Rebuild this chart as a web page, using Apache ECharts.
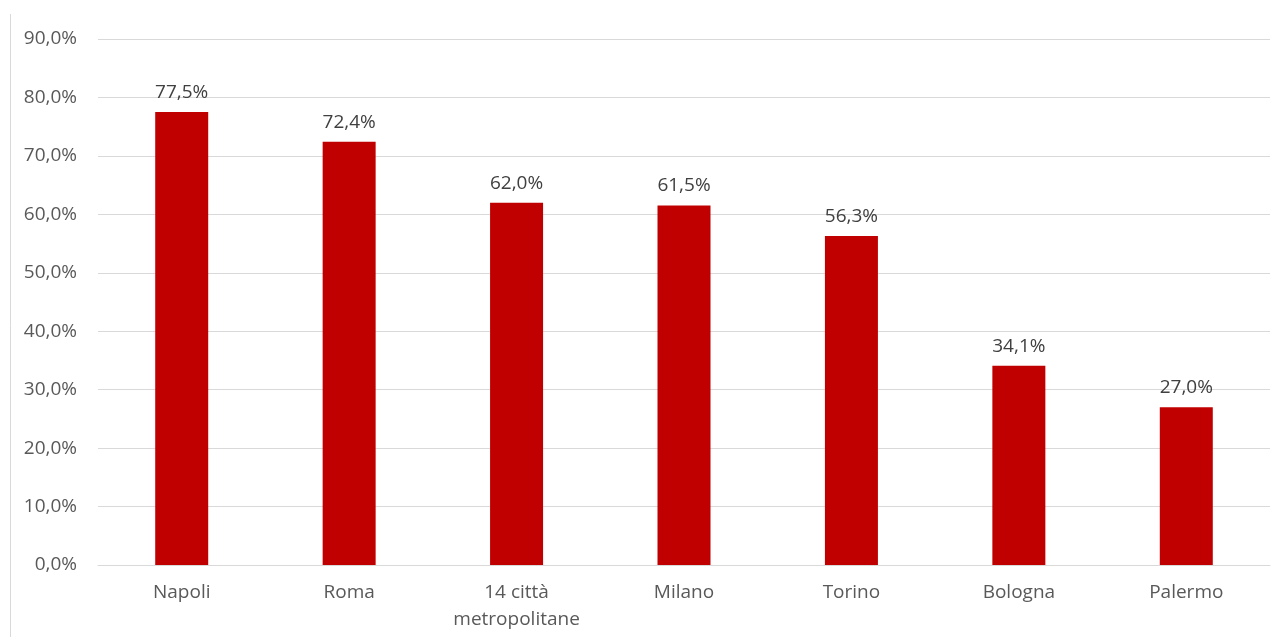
<!DOCTYPE html>
<html><head><meta charset="utf-8">
<script src="https://cdn.jsdelivr.net/npm/echarts@6/dist/echarts.min.js"></script>
<style>html,body{margin:0;padding:0;background:#fff}#c{width:1279px;height:637px}</style>
</head><body><div id="c"></div>
<script>
const categories = ['Napoli','Roma','14 città\nmetropolitane','Milano','Torino','Bologna','Palermo'];
const values = [77.5, 72.4, 62.0, 61.5, 56.3, 34.1, 27.0];
const yTicks = {min: 0, max: 90, interval: 10};
const fmt = v => v.toFixed(1).replace('.', ',') + '%';
const chart = echarts.init(document.getElementById('c'));
chart.setOption({
  animation: false,
  textStyle: {fontFamily: 'Open Sans'},
  grid: {left: 98, right: 9, top: 39, bottom: 72},
  graphic: [{type: 'line', shape: {x1: 10.5, y1: 14, x2: 10.5, y2: 637}, style: {stroke: '#d9d9d9', lineWidth: 1}}],
  xAxis: {type: 'category', data: categories,
    axisLine: {lineStyle: {color: '#d9d9d9'}}, axisTick: {show: false},
    axisLabel: {color: '#595959', fontSize: 19, margin: 14, lineHeight: 27, interval: 0}},
  yAxis: {type: 'value', min: yTicks.min, max: yTicks.max, interval: yTicks.interval,
    axisLine: {show: false}, axisTick: {show: false},
    splitLine: {lineStyle: {color: '#d9d9d9'}},
    axisLabel: {color: '#595959', fontSize: 19, margin: 21, formatter: fmt}},
  series: [{type: 'bar', data: values, barWidth: 53, itemStyle: {color: '#c00000'},
    label: {show: true, position: 'top', distance: 10, color: '#404040', fontSize: 19, formatter: p => fmt(p.value)}}]
});
</script></body></html>
